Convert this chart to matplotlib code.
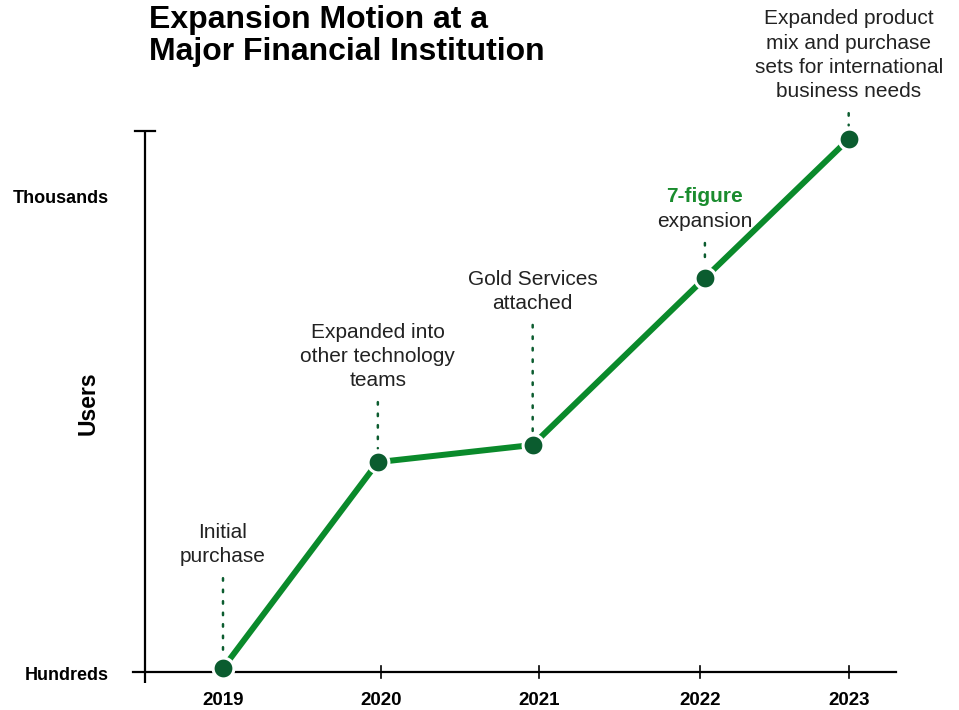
import matplotlib.pyplot as plt

# ── DATA ────────────────────────────────────────────────────
years      = [2019, 2020, 2021, 2022, 2023]
tick_pos   = [2019.0, 2020.0, 2021.0, 2022.02, 2022.96]
point_x    = [2019.0, 2019.98, 2020.96, 2022.05, 2022.96]
users      = [0.08, 4.40, 4.76, 8.26, 11.17]   # 0 = hundreds, 10 = thousands
y_ticks    = [0, 10]
y_labels   = ['Hundreds', 'Thousands']
notes      = ['Initial\npurchase',
              'Expanded into\nother technology\nteams',
              'Gold Services\nattached',
              'expansion',
              'Expanded product\nmix and purchase\nsets for international\nbusiness needs']
highlight  = [None, None, None, '7-figure', None]

# ── STYLE ───────────────────────────────────────────────────
FONT       = 'Liberation Sans'
LINE_GREEN = '#0a8a2b'
DOT_GREEN  = '#0b5c2f'
TXT_GREEN  = '#1a8c2e'
note_off   = [102, 72, 132, 47, 38]   # px from point to bottom of note

fig = plt.figure(figsize=(9.59, 7.10), dpi=100)
fig.patch.set_facecolor('white')
ax = fig.add_axes([96.6 / 959, 9.4 / 710, 805.8 / 959, 601 / 710])
ax.set_xlim(2018.2, 2023.3)
ax.set_ylim(-0.6, 12)
ax.axis('off')

# axes lines drawn by hand (spine with cap, axis with ticks both sides)
ax.plot([2018.506, 2018.506], [-0.23, 11.34], color='black', lw=1.6,
        solid_capstyle='butt', clip_on=False)
ax.plot([2018.443, 2018.569], [11.34, 11.34], color='black', lw=1.6, clip_on=False)
ax.plot([2018.43, 2023.26], [0, 0], color='black', lw=1.6, clip_on=False)
for t in tick_pos:
    ax.plot([t, t], [-0.13, 0.13], color='black', lw=1.2, clip_on=False)
for t, yr in zip(tick_pos, years):
    ax.text(t, -0.6, str(yr), ha='center', va='center', fontsize=13.5,
            fontweight='bold', family=FONT)
for yv, lab in zip(y_ticks, y_labels):
    ax.text(2018.278, yv - 0.08, lab, ha='right', va='center', fontsize=13,
            fontweight='bold', family=FONT)
ax.text(2018.146, (672 - 403) / 47.7, 'Users', rotation=90,
        ha='center', va='center', fontsize=16.5, fontweight='bold', family=FONT)

# main line + markers
ax.plot(point_x, users, color=LINE_GREEN, lw=4.3, solid_capstyle='butt', zorder=3)
ax.plot(point_x, users, 'o', color=DOT_GREEN, ms=15, mec='white', mew=2.2, zorder=4)

# notes with dotted leaders
for x, y, note, off, hl in zip(point_x, users, notes, note_off, highlight):
    ax.annotate('', xy=(x, y), xytext=(0, off - 12), textcoords='offset pixels',
                arrowprops=dict(arrowstyle='-', color=DOT_GREEN, lw=1.8,
                                linestyle=(0, (1, 3.6)), shrinkA=0, shrinkB=10))
    ax.annotate(note, xy=(x, y), xytext=(0, off), textcoords='offset pixels',
                ha='center', va='bottom', fontsize=15, color='#222222',
                family=FONT, linespacing=1.35)
    if hl:
        ax.annotate(hl, xy=(x, y), xytext=(0, off + 25), textcoords='offset pixels',
                    ha='center', va='bottom', fontsize=15, color=TXT_GREEN,
                    fontweight='bold', family=FONT)

fig.text(149 / 959, 1 - 36 / 710, 'Expansion Motion at a\nMajor Financial Institution',
         ha='left', va='center', fontsize=23, fontweight='bold', family=FONT,
         linespacing=1.05)

plt.savefig('out.png', dpi=100, facecolor='white')
